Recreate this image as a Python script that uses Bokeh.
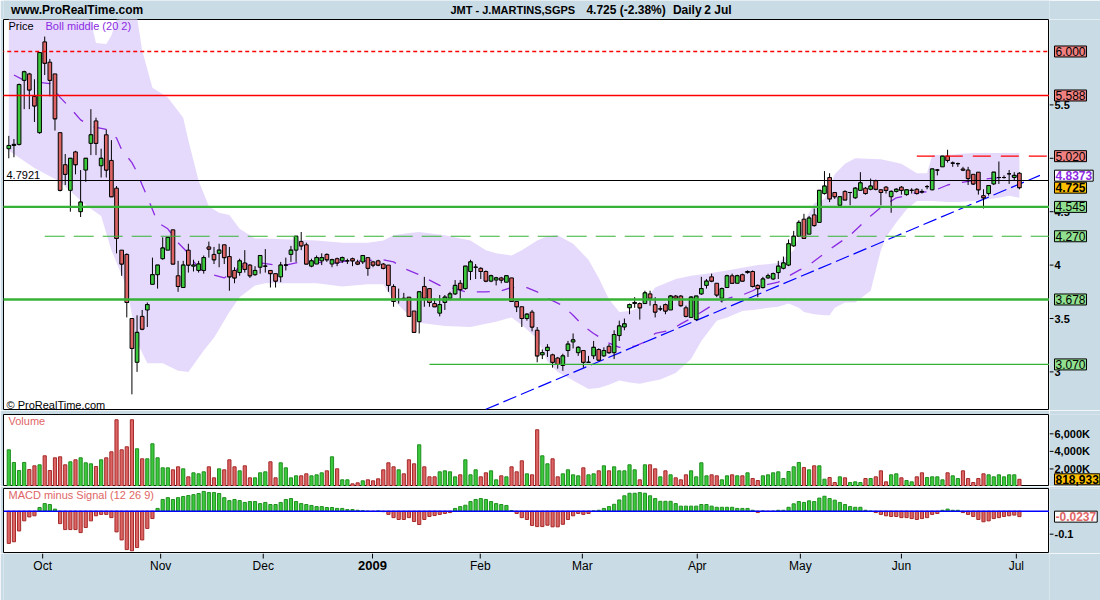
from bokeh.plotting import figure
from bokeh.models import Range1d, Label, Span, ColumnDataSource
from bokeh.layouts import column, row
from bokeh.embed import file_html
from bokeh.resources import INLINE
from bokeh.core.properties import value

# ------------------------------------------------------------------ data
month_labels = ["Oct", "Nov", "Dec", "2009", "Feb", "Mar", "Apr", "May", "Jun", "Jul"]
month_ticks = [6.6, 29.6, 49.6, 70.9, 91.9, 111.8, 134.2, 154.3, 174.0, 196.4]

opens = [5.09,5.12,5.13,5.73,5.79,5.58,5.24,6.09,5.90,5.79,
         5.24,4.94,4.70,5.06,4.50,4.89,5.14,5.35,4.93,5.22,
         4.98,4.72,4.14,4.10,3.50,3.09,3.52,3.58,3.82,3.91,
         4.06,4.14,4.33,3.90,3.79,4.14,3.99,3.95,3.95,4.17,
         4.10,4.11,4.19,4.08,3.95,3.93,4.02,4.00,3.91,3.98,
         3.99,3.95,3.92,3.89,4.00,4.10,4.14,4.22,4.19,3.99,
         4.01,4.04,4.10,4.01,4.06,4.04,4.04,4.06,4.03,4.03,
         4.07,4.03,4.04,4.01,4.00,3.80,3.68,3.69,3.70,3.57,
         3.47,3.80,3.78,3.64,3.55,3.65,3.69,3.73,3.83,3.78,
         3.94,3.98,3.97,3.94,3.85,3.86,3.88,3.84,3.88,3.66,
         3.61,3.50,3.56,3.39,3.16,3.20,3.16,3.13,3.06,3.20,
         3.28,3.18,3.20,3.09,3.15,3.21,3.15,3.24,3.18,3.34,
         3.42,3.60,3.64,3.64,3.64,3.73,3.63,3.59,3.63,3.58,
         3.71,3.71,3.60,3.51,3.49,3.73,3.81,3.89,3.83,3.69,
         3.79,3.90,3.83,3.91,3.93,3.94,3.81,3.79,3.88,3.87,
         3.93,3.97,4.00,4.18,4.27,4.43,4.29,4.47,4.40,4.67,
         4.82,4.68,4.56,4.69,4.68,4.63,4.70,4.72,4.71,4.79,
         4.705,4.73,4.64,4.69,4.73,4.66,4.70,4.71,4.69,4.735,
         4.705,4.89,4.92,5.02,4.955,4.95,4.90,4.89,4.85,4.87,
         4.65,4.67,4.76,4.82,4.82,4.855,4.82,4.86]
highs = [5.21,5.18,5.70,5.82,5.80,5.74,5.99,6.14,5.93,5.79,
         5.24,5.04,5.00,5.07,4.89,5.00,5.46,5.38,5.09,5.27,
         5.17,4.74,4.14,4.11,3.50,3.53,3.58,3.65,4.07,4.00,
         4.26,4.26,4.33,4.04,4.04,4.20,4.05,4.04,4.09,4.22,
         4.17,4.20,4.19,4.17,3.98,4.06,4.14,4.01,3.99,4.09,
         4.15,3.95,3.92,4.03,4.07,4.18,4.27,4.31,4.21,4.06,
         4.09,4.11,4.11,4.06,4.07,4.08,4.06,4.07,4.05,4.09,
         4.07,4.04,4.05,4.02,4.00,3.82,3.78,3.74,3.70,3.57,
         3.75,3.89,3.78,3.69,3.72,3.72,3.75,3.86,3.86,3.99,
         4.05,4.01,3.98,3.95,3.91,3.89,3.89,3.90,3.88,3.66,
         3.61,3.55,3.58,3.42,3.21,3.26,3.17,3.14,3.17,3.29,
         3.36,3.24,3.20,3.15,3.29,3.22,3.23,3.26,3.39,3.48,
         3.50,3.64,3.70,3.65,3.76,3.76,3.70,3.62,3.64,3.72,
         3.72,3.72,3.62,3.71,3.71,3.89,3.87,3.92,3.83,3.79,
         3.91,3.92,3.91,3.92,3.95,3.95,3.82,3.89,3.92,3.93,
         4.04,4.08,4.24,4.32,4.42,4.48,4.46,4.53,4.70,4.88,
         4.86,4.68,4.64,4.70,4.68,4.73,4.87,4.73,4.81,4.80,
         4.71,4.74,4.70,4.72,4.74,4.71,4.72,4.72,4.71,4.75,
         4.90,4.90,5.02,5.08,4.97,4.96,4.92,4.92,4.85,4.87,
         4.71,4.75,4.87,4.97,4.84,4.89,4.87,4.87]
lows = [5.00,5.01,5.12,5.46,5.46,5.34,5.23,5.78,5.58,5.26,
        4.69,4.75,4.50,4.85,4.45,4.78,5.03,5.03,4.82,4.82,
        4.64,4.11,3.90,3.51,2.79,3.00,3.39,3.42,3.82,3.78,
        4.05,4.14,4.01,3.75,3.79,3.93,3.94,3.93,3.92,4.07,
        4.01,3.98,4.01,3.76,3.83,3.90,3.93,3.88,3.90,3.92,
        3.93,3.79,3.79,3.84,3.95,4.03,4.03,4.14,4.01,3.98,
        4.01,4.00,4.03,3.98,3.99,4.02,4.01,3.99,4.00,4.01,
        3.90,3.98,3.99,3.96,3.75,3.61,3.64,3.67,3.52,3.37,
        3.36,3.61,3.61,3.61,3.52,3.58,3.67,3.72,3.68,3.77,
        3.86,3.87,3.87,3.84,3.84,3.81,3.83,3.84,3.66,3.56,
        3.42,3.48,3.38,3.09,3.12,3.14,3.04,3.03,3.01,3.14,
        3.22,3.15,3.04,3.09,3.12,3.11,3.14,3.17,3.12,3.29,
        3.39,3.54,3.60,3.49,3.64,3.62,3.51,3.57,3.54,3.58,
        3.68,3.61,3.51,3.51,3.48,3.72,3.78,3.84,3.70,3.65,
        3.79,3.83,3.83,3.85,3.92,3.79,3.70,3.78,3.87,3.86,
        3.87,3.96,3.99,4.17,4.27,4.25,4.29,4.36,4.40,4.66,
        4.59,4.62,4.56,4.61,4.56,4.62,4.70,4.66,4.70,4.70,
        4.56,4.67,4.49,4.68,4.66,4.65,4.67,4.66,4.67,4.71,
        4.70,4.84,4.92,4.96,4.92,4.92,4.88,4.75,4.75,4.66,
        4.53,4.65,4.75,4.76,4.81,4.76,4.79,4.71]
closes = [5.12,5.13,5.69,5.81,5.64,5.49,5.99,5.89,5.73,5.37,
          4.70,4.85,5.00,4.94,4.59,5.00,5.22,5.14,5.00,4.89,
          4.64,4.25,4.01,3.65,3.22,3.37,3.40,3.63,3.91,4.00,
          4.16,4.26,4.01,3.80,4.00,4.00,4.00,4.01,4.07,4.15,
          4.05,4.14,4.07,3.89,3.88,4.04,3.96,3.90,3.95,4.09,
          3.99,3.92,3.85,4.00,4.00,4.14,4.27,4.18,4.01,4.04,
          4.07,4.07,4.05,4.05,4.02,4.07,4.04,4.04,4.01,4.09,
          3.97,4.00,4.00,3.97,3.81,3.66,3.68,3.68,3.52,3.37,
          3.75,3.69,3.65,3.61,3.63,3.70,3.73,3.81,3.77,3.99,
          4.03,3.98,3.94,3.85,3.90,3.88,3.86,3.90,3.66,3.61,
          3.50,3.54,3.42,3.15,3.18,3.23,3.09,3.07,3.15,3.26,
          3.30,3.23,3.09,3.09,3.23,3.11,3.20,3.18,3.35,3.43,
          3.45,3.63,3.65,3.60,3.74,3.69,3.56,3.59,3.57,3.71,
          3.69,3.62,3.52,3.70,3.71,3.78,3.85,3.85,3.72,3.78,
          3.90,3.83,3.90,3.85,3.94,3.80,3.78,3.87,3.90,3.92,
          3.99,4.02,4.20,4.27,4.40,4.25,4.44,4.37,4.70,4.74,
          4.62,4.64,4.64,4.61,4.68,4.72,4.77,4.67,4.74,4.71,
          4.68,4.70,4.69,4.71,4.70,4.705,4.70,4.67,4.685,4.735,
          4.90,4.89,5.02,4.98,4.955,4.95,4.89,4.81,4.76,4.705,
          4.63,4.745,4.87,4.82,4.82,4.855,4.84,4.725]
# volume in thousands of shares
volumes = [4180,2736,1824,2736,1938,2356,2470,3496,1824,3268,
           3382,2470,2812,3040,3268,2698,2584,2280,3040,3268,
           3952,7600,4180,4522,7600,4294,3154,3154,4864,3268,
           2128,2128,1900,2242,2014,1102,1558,1444,1672,2242,
           988,2014,1900,3040,2242,1786,2356,988,988,1558,
           1672,2812,988,2698,2128,988,1216,1216,1444,1216,
           1330,1558,1786,3382,2014,760,760,304,418,646,
           760,646,874,1900,2698,2242,1900,1444,3040,2584,
           4750,2242,1102,1102,1672,1786,1672,1102,1330,3040,
           1330,1900,1102,1558,1786,760,1216,1102,2242,1672,
           2926,1444,1330,6460,3496,2584,3154,1102,1444,1900,
           1330,1216,2128,1330,1444,1786,2356,1786,2242,1786,
           1786,2470,1900,760,2470,2470,2014,1102,1786,1330,
           988,760,1330,1786,1102,2698,1216,1330,1216,760,
           1216,1330,1216,1216,1558,912,684,1216,1330,1558,
           1672,912,1710,2242,2736,2166,1900,2356,2356,836,
           1026,456,1102,988,456,532,456,912,912,1102,
           1786,532,1330,1444,988,684,532,1102,1558,1026,
           1102,1102,760,1558,1216,912,1786,912,456,912,
           1444,1330,1102,1330,1102,1330,1330,819]
macd_hist = [-0.140,-0.133,-0.086,-0.042,-0.025,-0.020,0.016,0.033,0.029,0.009,
             -0.054,-0.080,-0.080,-0.080,-0.093,-0.071,-0.042,-0.020,-0.014,-0.014,
             -0.028,-0.090,-0.125,-0.167,-0.172,-0.158,-0.125,-0.075,-0.032,0.012,
             0.051,0.059,0.051,0.059,0.064,0.068,0.072,0.077,0.086,0.081,
             0.081,0.077,0.059,0.046,0.051,0.046,0.038,0.042,0.042,0.033,
             0.038,0.029,0.029,0.038,0.051,0.055,0.042,0.033,0.029,0.025,
             0.020,0.020,0.016,0.016,0.012,0.012,0.007,0.007,0.004,0.002,
             0.000,-0.001,0.001,-0.002,-0.014,-0.028,-0.036,-0.036,-0.028,-0.045,
             -0.058,-0.036,-0.023,-0.019,-0.014,-0.010,-0.006,0.012,0.020,0.026,
             0.042,0.051,0.055,0.051,0.042,0.033,0.029,0.025,0.003,-0.010,
             -0.028,-0.036,-0.062,-0.067,-0.067,-0.061,-0.068,-0.068,-0.057,-0.036,
             -0.020,-0.010,-0.014,-0.010,0.001,0.004,0.012,0.020,0.030,0.049,
             0.067,0.078,0.078,0.081,0.078,0.067,0.055,0.043,0.043,0.043,
             0.033,0.022,0.022,0.022,0.022,0.029,0.029,0.022,0.017,0.017,
             0.017,0.017,0.012,0.012,0.012,0.004,-0.006,0.001,-0.001,0.000,
             0.004,0.004,0.017,0.032,0.042,0.038,0.045,0.042,0.057,0.065,
             0.055,0.048,0.038,0.029,0.020,0.017,0.017,0.004,0.000,-0.006,
             -0.014,-0.020,-0.023,-0.023,-0.028,-0.028,-0.032,-0.036,-0.032,-0.028,
             -0.014,-0.010,0.004,0.009,0.004,0.004,-0.006,-0.014,-0.023,-0.036,
             -0.046,-0.042,-0.032,-0.028,-0.023,-0.020,-0.017,-0.0237]

boll_upper_x = [0,5,10,15,16,17,19,20,21,25,26,28,31,34,35,37,39,41,43,45,
                48,50,55,60,65,70,73,75,78,80,85,90,93,95,98,100,103,105,107,110,
                113,115,117,119,121,123,126,130,133,136,140,146,150,153,155,157,159,161,163,165,
                170,174,177,179,180,183,185,188,190,193,195,197]
boll_upper = [6.45,6.50,6.42,6.35,6.28,6.08,6.07,6.15,6.30,6.32,6.01,5.66,5.57,5.38,5.17,4.79,4.55,4.49,4.47,4.34,
              4.25,4.25,4.24,4.23,4.21,4.21,4.23,4.28,4.30,4.31,4.28,4.23,4.14,4.11,4.09,4.14,4.23,4.27,4.28,4.20,
              4.05,3.88,3.68,3.56,3.57,3.60,3.79,3.87,3.90,3.92,3.95,4.00,4.02,4.14,4.40,4.58,4.62,4.85,4.95,5.00,
              4.99,4.95,4.86,4.86,5.03,5.03,5.04,5.05,5.05,5.05,5.05,5.05]
boll_lower_x = [0,5,10,15,18,20,23,25,27,30,33,35,38,40,43,45,48,50,55,60,
                65,70,73,75,78,80,85,90,93,95,98,100,103,105,107,110,113,115,117,119,
                121,123,125,127,130,133,135,138,140,143,145,148,150,152,154,155,157,159,160,161,
                163,165,168,170,171,173,175,177,178,180,183,185,188,190,193,195,197]
boll_lower = [5.07,4.91,4.78,4.56,4.46,4.14,3.79,3.28,3.08,3.08,3.01,3.00,3.20,3.32,3.56,3.70,3.81,3.83,3.83,3.83,
              3.80,3.82,3.82,3.67,3.53,3.46,3.43,3.42,3.45,3.47,3.51,3.44,3.31,3.10,3.00,2.92,2.84,2.85,2.88,2.92,
              2.90,2.89,2.91,2.93,2.99,3.12,3.29,3.48,3.51,3.57,3.58,3.60,3.61,3.64,3.60,3.56,3.54,3.53,3.53,3.60,
              3.65,3.65,3.76,4.14,4.26,4.40,4.52,4.60,4.60,4.60,4.59,4.59,4.60,4.61,4.63,4.65,4.63]
boll_mid_x = [1,3,6,8,10,12,14,16,19,21,22,24,25,26,27,28,29,31,33,35,
              37,39,42,44,47,49,52,54,57,59,62,64,66,68,70,72,75,77,80,82,
              84,87,89,91,93,96,98,101,103,105,108,110,112,114,117,119,122,124,126,129,
              131,133,136,138,141,143,145,147,150,151,154,156,159,161,164,166,168,170,173,175,
              177,180,183,185,188,191,193,196,197]
boll_mid = [5.78,5.73,5.71,5.70,5.57,5.47,5.36,5.30,5.27,5.19,5.08,4.96,4.87,4.75,4.64,4.52,4.40,4.34,4.21,4.11,
            3.97,3.92,3.88,3.95,4.02,4.02,4.00,4.00,4.03,4.03,4.02,4.02,4.04,4.04,4.04,4.06,4.03,3.97,3.91,3.86,
            3.81,3.78,3.75,3.75,3.75,3.76,3.79,3.79,3.75,3.69,3.62,3.53,3.43,3.36,3.27,3.23,3.24,3.28,3.36,3.39,
            3.45,3.50,3.59,3.65,3.70,3.72,3.76,3.81,3.84,3.87,3.95,4.00,4.11,4.18,4.28,4.37,4.46,4.54,4.63,4.65,
            4.68,4.69,4.75,4.77,4.79,4.81,4.82,4.835,4.837]

trend_x = [93, 201]
trend_y = [2.65, 4.84]

level_values = [6.000, 5.588, 5.020, 4.7921, 4.545, 4.270, 3.678, 3.070]
level_start = [None, None, 177, None, None, 7, None, 82]   # first bar where the line starts
level_box_text = ["6.000", "5.588", "5.020", None, "4.545", "4.270", "3.678", "3.070"]

price_ticks = [3, 3.5, 4, 4.5, 5, 5.5]
volume_ticks = [2000, 4000, 6000]
macd_ticks = [-0.1]

last_close = 4.725
last_boll_mid = 4.8373
last_volume = 818.933
last_macd = -0.0237

# ------------------------------------------------------------------ style / geometry
BG = "#c9dce6"
FONT = "Liberation Sans"
GREEN = "#3cc83c"
RED = "#dd6464"
GREEN_DK = "#1f8f1f"
RED_DK = "#a52a2a"
PURPLE = "#8b2be2"
LVL_GREEN = "#36b336"
BAND = "#e6dafc"
LBL_RED = "#e06666"

PX = 5.13                    # pixels per bar
X0 = (3 - 8.3) / PX          # frame left edge (page x = 3)
X1 = (1049 - 8.3) / PX       # frame right edge (page x = 1049)
RW = 51                      # right strip width
P_BOT, P_TOP = 2.6386, 6.2996
V_BOT, V_TOP = 0.0, 8200.0
M_BOT, M_TOP = -0.184, 0.0987

xr = Range1d(X0, X1)
pyr = Range1d(P_BOT, P_TOP)
vyr = Range1d(V_BOT, V_TOP)
myr = Range1d(M_BOT, M_TOP)


def xd(rx):
    return X0 + (rx - 3) / PX


def yp(ry):
    return P_TOP - (ry - 19) * (P_TOP - P_BOT) / 391


def yv(ry):
    return V_TOP - (ry - 414) * (V_TOP - V_BOT) / 72


def ym(ry):
    return M_TOP - (ry - 488) * (M_TOP - M_BOT) / 65


def plain_fig(width, height, x_range, y_range, left=0, right=0, top=0, bottom=0,
              bg="white", outline="black"):
    f = figure(width=width, height=height, x_range=x_range, y_range=y_range,
               output_backend="svg", toolbar_location=None, tools="",
               x_axis_location=None, y_axis_location=None,
               min_border_left=left, min_border_right=right,
               min_border_top=top, min_border_bottom=bottom,
               background_fill_color=bg, border_fill_color=BG,
               outline_line_color=outline, outline_line_width=1)
    f.grid.visible = False
    return f


def lab(fig, x, y, text, size="11px", color="black", bold=False, align="left",
        bg=None, border=None, pad=0):
    kw = dict(x=x, y=y, text=text, text_font=FONT, text_font_size=size,
              text_color=color, text_font_style="bold" if bold else "normal",
              text_align=align, text_baseline="middle")
    if bg is not None:
        kw["background_fill_color"] = bg
    if border is not None:
        kw["border_line_color"] = border
    if pad:
        kw["padding"] = pad
    fig.add_layout(Label(**kw))


def right_strip(height, yrange, ticks, tick_text, top=0, bottom=0):
    f = plain_fig(RW, height, Range1d(0, RW), yrange, top=top, bottom=bottom,
                  bg=BG, outline=None)
    f.segment(x0=[0] * len(ticks), y0=ticks, x1=[4] * len(ticks), y1=ticks,
              line_color="black", line_width=1)
    f.text(x=[5] * len(ticks), y=ticks, text=tick_text,
           text_font=value(FONT), text_font_size="11px", text_font_style="bold",
           text_color="black", text_align="left", text_baseline="middle")
    return f


idx = list(range(len(opens)))
body_col = [GREEN if c > o else (RED if c < o else "black") for o, c in zip(opens, closes)]
vol_fill = [GREEN if c >= o else RED for o, c in zip(opens, closes)]
vol_line = [GREEN_DK if c >= o else RED_DK for o, c in zip(opens, closes)]

# ------------------------------------------------------------------ title bar
tf = plain_fig(1100, 19, Range1d(0, 1100), Range1d(19, 0), bg=BG, outline=None)
lab(tf, 8, 9.5, "www.ProRealTime.com", size="12px", bold=True)
lab(tf, 470, 9.5, "JMT - J.MARTINS,SGPS", size="11px", bold=True)
lab(tf, 613, 9.5, "4.725 (-2.38%)", size="12px", bold=True)
lab(tf, 704, 9.5, "Daily", size="12px", bold=True)
lab(tf, 737, 9.5, "2 Jul", size="12px", bold=True)

# ------------------------------------------------------------------ price panel
pf = plain_fig(1049, 391, xr, pyr, left=3)

pf.patch(boll_upper_x + boll_lower_x[::-1], boll_upper + boll_lower[::-1],
         fill_color=BAND, line_color=None)
pf.line(boll_mid_x, boll_mid, line_color=PURPLE, line_width=1.3, line_dash="13 12")
pf.line(trend_x, trend_y, line_color="#0000ff", line_width=1.2, line_dash="14 5")

src = ColumnDataSource(dict(
    x=idx, o=opens, h=highs, l=lows, c=closes,
    top=[max(o, c) for o, c in zip(opens, closes)],
    bottom=[min(o, c) for o, c in zip(opens, closes)],
    xl=[i - 0.36 for i in idx], xr=[i + 0.36 for i in idx],
    col=body_col))
pf.segment(x0="x", y0="l", x1="x", y1="h", source=src, line_color="black", line_width=1)
pf.segment(x0="xl", y0="c", x1="xr", y1="c", source=src, line_color="black", line_width=1)
pf.vbar(x="x", top="top", bottom="bottom", width=0.72, source=src,
        fill_color="col", line_color="black", line_width=1)

lvl_style = {
    6.000: ("#ff0000", 1.4, "4 3"),
    5.588: ("#ff0000", 1.5, "solid"),
    5.020: ("#ff0000", 1.4, "18 10"),
    4.7921: ("black", 1, "solid"),
    4.545: (LVL_GREEN, 2.4, "solid"),
    4.270: (LVL_GREEN, 1.2, "20 9"),
    3.678: (LVL_GREEN, 2.4, "solid"),
    3.070: (LVL_GREEN, 1.2, "solid"),
}
for v, s in zip(level_values, level_start):
    col, w, dash = lvl_style[v]
    x0 = X0 - 2 if s is None else s
    pf.line([x0, X1 + 2], [v, v], line_color=col, line_width=w, line_dash=dash)

lab(pf, xd(8), yp(25), "Price")
lab(pf, xd(45), yp(25), "Boll middle (20 2)", color=PURPLE)
lab(pf, xd(6), yp(174), "4.7921")
lab(pf, xd(6), yp(404), "\u00a9 ProRealTime.com")

prs = right_strip(391, pyr, price_ticks, [f"{t:g}" for t in price_ticks])
for v, t in zip(level_values, level_box_text):
    if t is None:
        continue
    fill = "#f08080" if v > 4.9 else "#90e090"
    lab(prs, 5, v, t, size="12px", bg=fill, border="black", pad=1)
lab(prs, 5, last_boll_mid, f"{last_boll_mid:.4f}", size="12px", color=PURPLE,
    bold=True, bg="white", border="black", pad=1)
lab(prs, 5, last_close, f"{last_close:.3f}", size="12px", bold=True,
    bg="#ffc000", border="black", pad=1)

# ------------------------------------------------------------------ volume panel
vf = plain_fig(1049, 76, xr, vyr, left=3, top=4)
vf.vbar(x=idx, top=volumes, bottom=0, width=0.62, fill_color=vol_fill,
        line_color=vol_line, line_width=1)
lab(vf, xd(8), yv(420), "Volume", color=LBL_RED)

vrs = right_strip(76, vyr, volume_ticks, [f"{t:,}K" for t in volume_ticks], top=4)
lab(vrs, 5, last_volume, f"{last_volume * 1000:,.0f}", size="12px", bold=True,
    bg="#ffc000", border="black", pad=1)

# ------------------------------------------------------------------ MACD panel
mf = plain_fig(1049, 67, xr, myr, left=3, top=2)
m_fill = [GREEN if m >= 0 else RED for m in macd_hist]
m_line = [GREEN_DK if m >= 0 else RED_DK for m in macd_hist]
mf.vbar(x=idx, top=macd_hist, bottom=0, width=0.62, fill_color=m_fill,
        line_color=m_line, line_width=1)
mf.add_layout(Span(location=0, dimension="width", line_color="#0000ff", line_width=1.5))
lab(mf, xd(8), ym(494), "MACD minus Signal (12 26 9)", color=LBL_RED)

mrs = right_strip(67, myr, macd_ticks, [f"{t:g}" for t in macd_ticks], top=2)
lab(mrs, 5, last_macd, f"{last_macd:.4f}", size="12px", bold=True,
    color=LBL_RED, bg="white", border="black", pad=1)

# ------------------------------------------------------------------ date axis strip
af = plain_fig(1100, 47, xr, Range1d(47, 0), left=3, right=RW, bg=BG, outline=None)
af.segment(x0=month_ticks, y0=[0] * len(month_ticks), x1=month_ticks,
           y1=[5] * len(month_ticks), line_color="black", line_width=1)
norm = [(t, l) for t, l in zip(month_ticks, month_labels) if l != "2009"]
bold = [(t, l) for t, l in zip(month_ticks, month_labels) if l == "2009"]
af.text(x=[t for t, _ in norm], y=[12] * len(norm), text=[l for _, l in norm],
        text_font=value(FONT), text_font_size="12px", text_color="black",
        text_align="center", text_baseline="middle")
af.text(x=[t for t, _ in bold], y=[12] * len(bold), text=[l for _, l in bold],
        text_font=value(FONT), text_font_size="13px", text_font_style="bold",
        text_color="black", text_align="center", text_baseline="middle")

layout = column(tf, row(pf, prs), row(vf, vrs), row(mf, mrs), af)
open("out.html", "w").write(file_html(layout, INLINE))
